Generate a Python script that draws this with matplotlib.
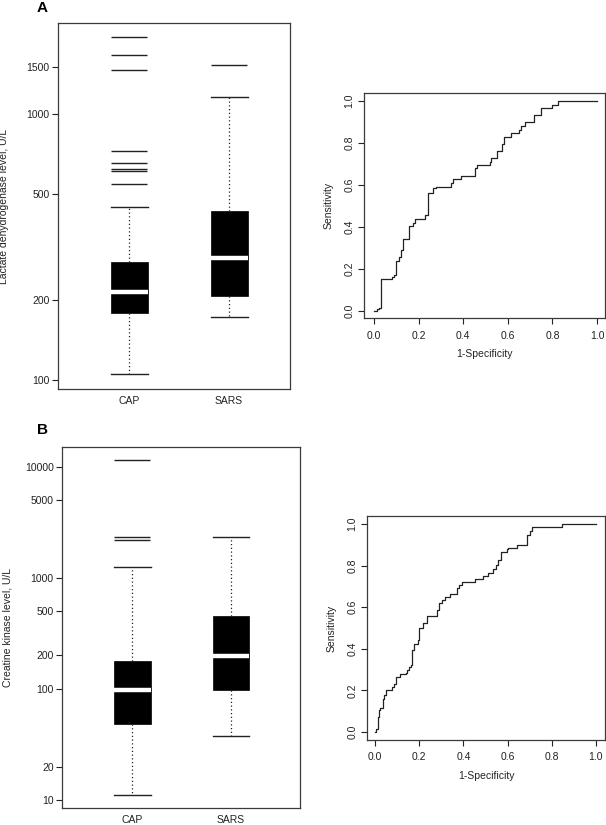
import matplotlib
matplotlib.use("Agg")
import matplotlib.pyplot as plt
from matplotlib.ticker import FixedLocator, NullLocator

plt.rcParams['font.family'] = ['Liberation Sans', 'DejaVu Sans']

# Panel A: lactate dehydrogenase (U/L)
ldh_groups = ["CAP", "SARS"]
ldh_whislo = [105, 173]
ldh_q1 = [179, 207]
ldh_med = [214, 288]
ldh_q3 = [278, 433]
ldh_whishi = [447, 1159]
ldh_fliers = [[544, 610, 621, 653, 728, 1469, 1671, 1950], [1528]]
ldh_ticks = [100, 200, 500, 1000, 1500]

# Panel A ROC
roc_a_fpr = [0.0, 0.015, 0.023, 0.031, 0.079, 0.090, 0.097, 0.112, 0.121, 0.132,
             0.157, 0.177, 0.184, 0.229, 0.244, 0.266, 0.277, 0.344, 0.356, 0.391,
             0.454, 0.461, 0.518, 0.525, 0.551, 0.573, 0.584, 0.614, 0.651, 0.660,
             0.678, 0.716, 0.750, 0.800, 0.825, 1.0]
roc_a_tpr = [0.0, 0.008, 0.015, 0.152, 0.163, 0.170, 0.238, 0.256, 0.290, 0.341,
             0.406, 0.420, 0.440, 0.457, 0.560, 0.584, 0.592, 0.610, 0.627, 0.643,
             0.680, 0.695, 0.711, 0.727, 0.763, 0.795, 0.830, 0.847, 0.863, 0.880,
             0.900, 0.933, 0.967, 0.983, 1.0, 1.0]

# Panel B: creatine kinase (U/L)
ck_groups = ["CAP", "SARS"]
ck_whislo = [11.1, 37.7]
ck_q1 = [48, 97.7]
ck_med = [97, 199]
ck_q3 = [178, 456]
ck_whishi = [1260, 2312]
ck_fliers = [[2188, 2312, 11480], []]
ck_ticks = [10, 20, 100, 200, 500, 1000, 5000, 10000]

# Panel B ROC
roc_b_fpr = [0.0, 0.005, 0.012, 0.018, 0.023, 0.035, 0.041, 0.050, 0.078, 0.086,
             0.094, 0.113, 0.140, 0.146, 0.154, 0.163, 0.169, 0.178, 0.196, 0.200,
             0.219, 0.237, 0.279, 0.291, 0.302, 0.317, 0.339, 0.370, 0.380, 0.392,
             0.452, 0.487, 0.513, 0.535, 0.546, 0.558, 0.569, 0.596, 0.603, 0.644,
             0.689, 0.701, 0.712, 0.845, 1.0]
roc_b_tpr = [0.0, 0.016, 0.072, 0.104, 0.116, 0.160, 0.177, 0.204, 0.217, 0.233,
             0.265, 0.278, 0.284, 0.300, 0.313, 0.324, 0.396, 0.425, 0.441, 0.500,
             0.526, 0.558, 0.586, 0.618, 0.634, 0.647, 0.661, 0.690, 0.706, 0.722,
             0.735, 0.748, 0.762, 0.782, 0.803, 0.827, 0.867, 0.878, 0.884, 0.899,
             0.947, 0.968, 0.984, 1.0, 1.0]

W, H = 606, 825
fig = plt.figure(figsize=(W / 100, H / 100), dpi=100)


def add_axes(left, top, right, bottom):
    return fig.add_axes([left / W, 1 - bottom / H, (right - left) / W, (bottom - top) / H])


edge = "#3a3a3a"


def boxpanel(ax, groups, whislo, q1, med, q3, whishi, fliers, ticks, ylim, xlim, ylabel, labx):
    stats = []
    for i in range(len(groups)):
        stats.append(dict(label=groups[i], whislo=whislo[i], q1=q1[i], med=med[i],
                          q3=q3[i], whishi=whishi[i], fliers=fliers[i]))
    ax.bxp(stats, positions=[1, 2], widths=0.37, capwidths=0.37, patch_artist=True,
           boxprops=dict(facecolor="black", edgecolor="black", linewidth=0.5),
           medianprops=dict(color="white", linewidth=3.2, solid_capstyle="butt"),
           whiskerprops=dict(color="#222", linestyle=(0, (1, 2)), linewidth=0.9),
           capprops=dict(color="#222", linewidth=1.0),
           flierprops=dict(marker="_", markersize=26.5, markeredgewidth=1.0,
                           markeredgecolor="#222"))
    ax.set_yscale("log")
    ax.set_ylim(*ylim)
    ax.set_xlim(*xlim)
    ax.yaxis.set_major_locator(FixedLocator(ticks))
    ax.yaxis.set_minor_locator(NullLocator())
    ax.set_yticklabels([str(t) for t in ticks])
    ax.tick_params(axis="y", direction="out", length=4, width=0.8, labelsize=7.5, pad=2,
                   colors="#222")
    ax.tick_params(axis="x", length=0, labelsize=7.5, pad=5, colors="#222")
    ax.set_ylabel(ylabel, fontsize=7.5, color="#222")
    ax.yaxis.set_label_coords(labx, 0.5)
    for s in ax.spines.values():
        s.set_color(edge)
        s.set_linewidth(0.9)


def rocpanel(ax, fpr, tpr, xlim, ylim):
    ax.plot(fpr, tpr, drawstyle="steps-post", color="#222", linewidth=0.9)
    ax.set_xlim(*xlim)
    ax.set_ylim(*ylim)
    ticks = [0.0, 0.2, 0.4, 0.6, 0.8, 1.0]
    ax.set_xticks(ticks)
    ax.set_yticks(ticks)
    ax.set_xticklabels(["%.1f" % t for t in ticks])
    ax.set_yticklabels(["%.1f" % t for t in ticks], rotation=90, va="center")
    ax.tick_params(direction="out", length=4, width=0.8, labelsize=7.5, colors="#222")
    ax.tick_params(axis="x", pad=5)
    ax.tick_params(axis="y", pad=3)
    ax.set_xlabel("1-Specificity", fontsize=7.5, color="#222", labelpad=6)
    ax.set_ylabel("Sensitivity", fontsize=7.5, color="#222", labelpad=8)
    for s in ax.spines.values():
        s.set_color(edge)
        s.set_linewidth(0.9)


ax1 = add_axes(58, 23, 290, 389)
boxpanel(ax1, ldh_groups, ldh_whislo, ldh_q1, ldh_med, ldh_q3, ldh_whishi, ldh_fliers,
         ldh_ticks, (92.5, 2203), (0.29, 2.61), "Lactate dehydrogenase level, U/L", -0.21)

ax2 = add_axes(364, 93, 605, 318)
rocpanel(ax2, roc_a_fpr, roc_a_tpr, (-0.045, 1.036), (-0.033, 1.038))

ax3 = add_axes(62, 447, 300, 808)
boxpanel(ax3, ck_groups, ck_whislo, ck_q1, ck_med, ck_q3, ck_whishi, ck_fliers,
         ck_ticks, (8.47, 15040), (0.288, 2.70), "Creatine kinase level, U/L", -0.21)

ax4 = add_axes(367, 516, 605, 740)
rocpanel(ax4, roc_b_fpr, roc_b_tpr, (-0.036, 1.041), (-0.038, 1.038))

fig.text(42 / W, 1 - 8 / H, "A", fontsize=11, fontweight="bold", ha="center", va="center")
fig.text(42 / W, 1 - 430 / H, "B", fontsize=11, fontweight="bold", ha="center", va="center")

fig.savefig("out.png", dpi=100)
